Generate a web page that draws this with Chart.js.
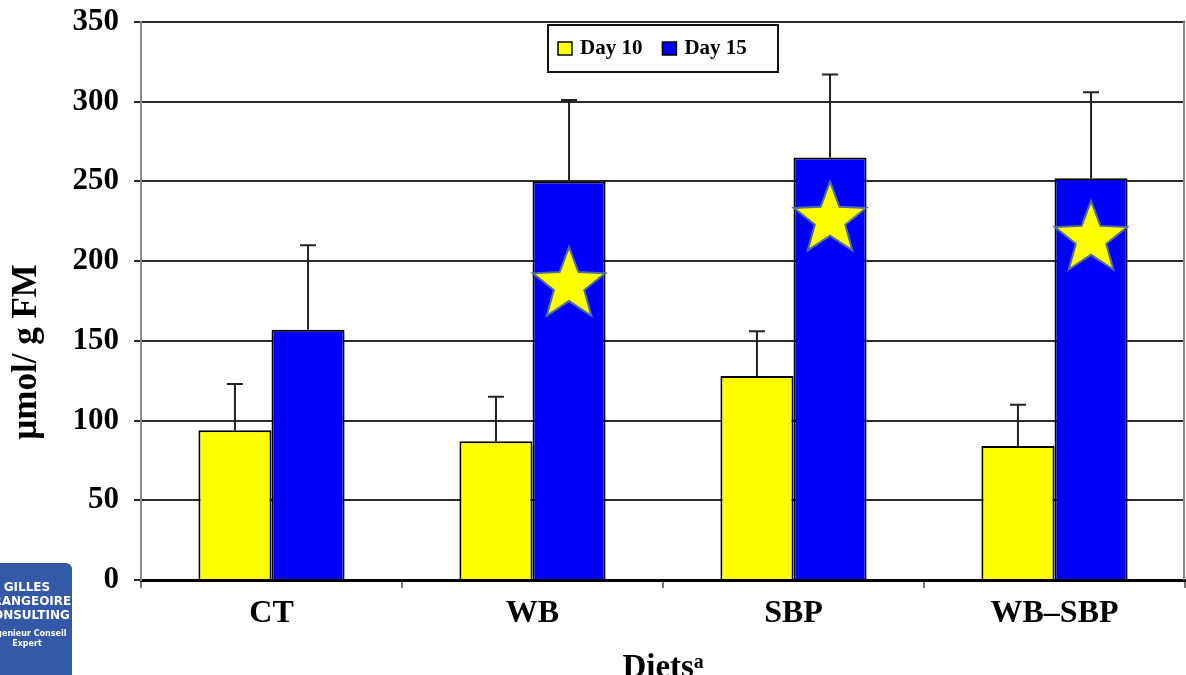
<!DOCTYPE html>
<html>
<head>
<meta charset="utf-8">
<script src="https://cdn.jsdelivr.net/npm/chart.js@4.4.1/dist/chart.umd.min.js"></script>
<style>
  html, body { margin: 0; padding: 0; background: #fff; overflow: hidden; }
  #wrap { position: relative; width: 1186px; height: 675px; overflow: hidden; }
  #logo {
    position: absolute; left: -18px; top: 563px; width: 90px; height: 120px;
    background: #3459a8; border-radius: 6px; color: #fff; text-align: center;
    font-family: "DejaVu Sans", sans-serif; font-weight: bold;
  }
  #logo .big { font-size: 12px; line-height: 14px; margin-top: 17px; }
  #logo .small { font-size: 8px; line-height: 10px; margin-top: 7px; }
</style>
</head>
<body>
<div id="wrap">
  <canvas id="dietChart" width="1186" height="690"></canvas>
  <div id="logo">
    <div class="big">GILLES<br>GRANGEOIRE<br>CONSULTING</div>
    <div class="small">Ingenieur Conseil<br>Expert</div>
  </div>
</div>
<script>
// Data
const diets = ['CT', 'WB', 'SBP', 'WB\u2013SBP'];
const day10 = [94, 87, 128, 84];
const day10Err = [29, 28, 28, 26];
const day15 = [157, 250, 265, 252];
const day15Err = [53, 51, 52, 54];
// significance stars drawn in the Day 15 bars (null = none)
const starValues = [null, 185, 226, 214];
const yTicks = [0, 50, 100, 150, 200, 250, 300, 350];
const yTitle = '\u00b5mol/ g FM';

const serif = 'Liberation Serif';

// error bars (upper only)
const errorBars = {
  id: 'errorBars',
  afterDatasetsDraw(chart) {
    const { ctx, scales: { y } } = chart;
    const errs = [day10Err, day15Err];
    ctx.save();
    ctx.strokeStyle = '#222';
    ctx.lineWidth = 2;
    chart.data.datasets.forEach((ds, d) => {
      const meta = chart.getDatasetMeta(d);
      meta.data.forEach((bar, i) => {
        const top = y.getPixelForValue(ds.data[i] + errs[d][i]);
        ctx.beginPath();
        ctx.moveTo(bar.x, bar.y);
        ctx.lineTo(bar.x, top);
        ctx.moveTo(bar.x - 8, top);
        ctx.lineTo(bar.x + 8, top);
        ctx.stroke();
      });
    });
    ctx.restore();
  }
};

// yellow stars
const stars = {
  id: 'stars',
  afterDatasetsDraw(chart) {
    const { ctx, scales: { y } } = chart;
    const meta = chart.getDatasetMeta(1);
    ctx.save();
    starValues.forEach((v, i) => {
      if (v === null) return;
      const cx = meta.data[i].x;
      const cy = y.getPixelForValue(v);
      const R = 38, r = 16;
      ctx.beginPath();
      for (let k = 0; k < 10; k++) {
        const rad = k % 2 === 0 ? R : r;
        const a = -Math.PI / 2 + k * Math.PI / 5;
        const px = cx + rad * Math.cos(a);
        const py = cy + rad * Math.sin(a);
        if (k === 0) ctx.moveTo(px, py); else ctx.lineTo(px, py);
      }
      ctx.closePath();
      ctx.fillStyle = '#ffff00';
      ctx.fill();
      ctx.strokeStyle = '#4f6f9a';
      ctx.lineWidth = 2;
      ctx.stroke();
    });
    ctx.restore();
  }
};

// frame on the right, y title and boxed legend inside the plot
const frameLegend = {
  id: 'frameLegend',
  afterDraw(chart) {
    const { ctx, chartArea: a } = chart;
    ctx.save();
    ctx.strokeStyle = '#888';
    ctx.lineWidth = 2;
    ctx.beginPath();
    ctx.moveTo(a.right - 1, a.top);
    ctx.lineTo(a.right - 1, a.bottom);
    ctx.stroke();

    // y axis title
    ctx.save();
    ctx.translate(27, 352);
    ctx.rotate(-Math.PI / 2);
    ctx.font = 'bold 35px "' + serif + '"';
    ctx.fillStyle = '#000';
    ctx.textAlign = 'center';
    ctx.textBaseline = 'middle';
    ctx.fillText(yTitle, 0, 0);
    ctx.restore();

    const bx = 548, by = 25, bw = 230, bh = 47;
    ctx.fillStyle = '#fff';
    ctx.fillRect(bx, by, bw, bh);
    ctx.strokeStyle = '#111';
    ctx.lineWidth = 2;
    ctx.strokeRect(bx, by, bw, bh);
    ctx.font = 'bold 21px "' + serif + '"';
    ctx.textBaseline = 'middle';
    let x = bx + 10;
    chart.data.datasets.forEach(ds => {
      ctx.fillStyle = ds.backgroundColor;
      ctx.fillRect(x, by + 17, 14, 13);
      ctx.strokeStyle = '#000';
      ctx.lineWidth = 1.5;
      ctx.strokeRect(x, by + 17, 14, 13);
      ctx.fillStyle = '#000';
      ctx.fillText(ds.label, x + 22, by + 24);
      x += 22 + ctx.measureText(ds.label).width + 20;
    });
    ctx.restore();
  }
};

const ctx = document.getElementById('dietChart').getContext('2d');

const data = {
  labels: diets,
  datasets: [
    {
      label: 'Day 10',
      data: day10,
      backgroundColor: '#ffff00',
      borderColor: '#000',
      borderWidth: 2
    },
    {
      label: 'Day 15',
      data: day15,
      backgroundColor: '#0000ff',
      borderColor: '#000',
      borderWidth: 2
    }
  ]
};

const config = {
  type: 'bar',
  data: data,
  options: {
    responsive: false,
    animation: false,
    layout: { padding: { top: 22, right: 1, left: 0, bottom: 0 } },
    datasets: {
      bar: { categoryPercentage: 0.56, barPercentage: 1.0 }
    },
    scales: {
      x: {
        afterFit: s => { s.height = 110; s.paddingLeft = 0; s.paddingRight = 0; },
        grid: { drawOnChartArea: false, color: '#777', lineWidth: 2, tickLength: 8 },
        border: { color: '#000', width: 3 },
        ticks: { color: '#000', padding: 7, font: { family: serif, size: 32, weight: 'bold' } },
        title: {
          display: true,
          text: 'Diets\u1d43',
          color: '#000',
          padding: { top: 0, bottom: 2 },
          font: { family: serif, size: 33, weight: 'bold' }
        }
      },
      y: {
        min: 0,
        max: 350,
        afterFit: s => { s.width = 141; s.paddingTop = 0; s.paddingBottom = 0; },
        afterBuildTicks: s => { s.ticks = yTicks.map(v => ({ value: v })); },
        grid: { color: '#2a2a2a', lineWidth: 2, tickLength: 7 },
        border: { color: '#888', width: 2 },
        ticks: { color: '#000', padding: 15, font: { family: serif, size: 31, weight: 'bold' } }
      }
    },
    plugins: {
      legend: { display: false },
      tooltip: { enabled: false }
    }
  },
  plugins: [errorBars, stars, frameLegend]
};

new Chart(ctx, config);
</script>
</body>
</html>
